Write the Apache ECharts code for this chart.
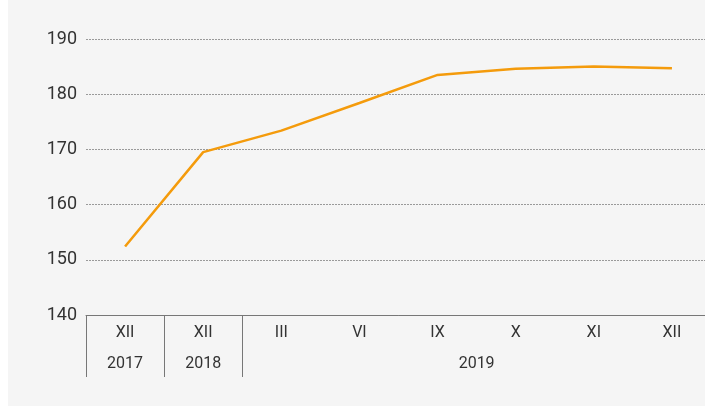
<!DOCTYPE html>
<html>
<head>
<meta charset="utf-8">
<script src="https://cdn.jsdelivr.net/npm/echarts@6/dist/echarts.min.js"></script>
<style>
    html, body { margin: 0; padding: 0; background: #fff; overflow: hidden; }
    #chart {
        width: 711px;
        height: 406px;
        background: linear-gradient(to right, #fff 8px, #f5f5f5 8px);
    }
</style>
</head>
<body>
<div id="chart"></div>
<script>
    // dane
    var months = ['XII', 'XII', 'III', 'VI', 'IX', 'X', 'XI', 'XII'];
    var monthYears = ['2017', '2018', '2019', '2019', '2019', '2019', '2019', '2019'];
    var values = [152.4, 169.5, 173.4, 178.4, 183.5, 184.6, 185.0, 184.7];
    var yTicks = [140, 150, 160, 170, 180, 190];

    // grupy lat -> granice i srodki
    var yearGroups = [];
    monthYears.forEach(function (y, i) {
        var last = yearGroups[yearGroups.length - 1];
        if (last && last.year === y) { last.end = i + 1; }
        else { yearGroups.push({ year: y, start: i, end: i + 1 }); }
    });
    var yearBounds = yearGroups.map(function (g) { return g.start; });
    var yearCenters = yearGroups.map(function (g) { return (g.start + g.end) / 2; });

    var font = 'Roboto, sans-serif';
    var chart = echarts.init(document.getElementById('chart'));
    var option = {
        animation: false,
        grid: { left: 86, right: 0, top: 39, bottom: 91 },
        xAxis: [
            {
                type: 'category',
                data: months,
                boundaryGap: true,
                axisLine: { lineStyle: { color: '#777', width: 1 } },
                axisTick: { show: false },
                axisLabel: { color: '#333', fontSize: 16, fontFamily: font, margin: 10 }
            },
            {
                type: 'value',
                position: 'bottom',
                min: 0,
                max: months.length,
                splitLine: { show: false },
                axisLine: { show: false },
                axisTick: {
                    show: true,
                    length: 62,
                    customValues: yearBounds,
                    lineStyle: { color: '#777', width: 1 }
                },
                axisLabel: {
                    color: '#333', fontSize: 16, fontFamily: font, margin: 41,
                    customValues: yearCenters,
                    formatter: function (v) {
                        var idx = yearCenters.indexOf(v);
                        return idx >= 0 ? yearGroups[idx].year : '';
                    }
                }
            }
        ],
        yAxis: {
            type: 'value',
            min: yTicks[0],
            max: yTicks[yTicks.length - 1],
            interval: 10,
            axisLine: { show: false },
            axisTick: { show: false },
            axisLabel: { color: '#333', fontSize: 18, fontFamily: font, margin: 9 },
            splitLine: { lineStyle: { color: '#9a9a9a', type: [2, 1], width: 1 } }
        },
        series: [
            {
                type: 'line',
                xAxisIndex: 0,
                data: values,
                symbol: 'none',
                lineStyle: { color: '#f49b0c', width: 2.5 }
            }
        ]
    };
    chart.setOption(option);
</script>
</body>
</html>
